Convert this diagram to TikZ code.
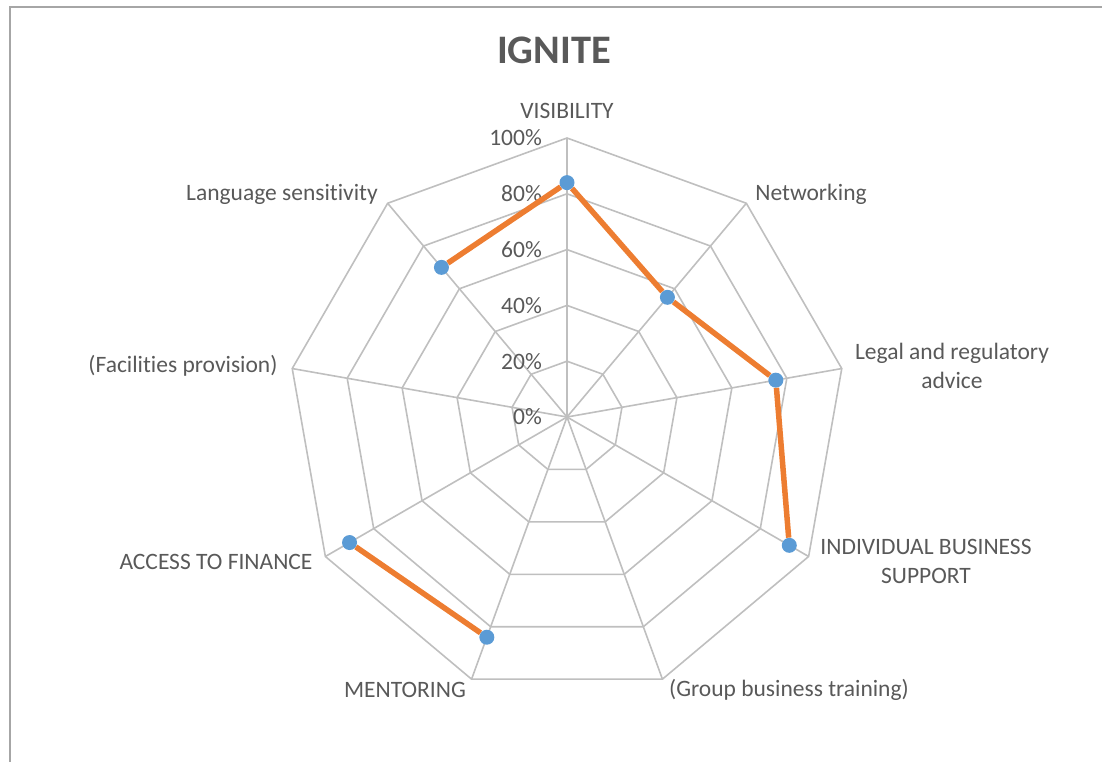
\documentclass[tikz,border=0pt]{standalone}
\usepackage{fontspec}
\setmainfont{Carlito}[Ligatures={NoCommon}]
\usepackage{tikz}
\usetikzlibrary{shapes}

\definecolor{gridgray}{HTML}{BFBFBF}
\definecolor{textgray}{HTML}{595959}
\definecolor{framegray}{HTML}{A6A6A6}
\definecolor{lineorange}{HTML}{ED7D31}
\definecolor{dotblue}{HTML}{5B9BD5}

\tikzset{
  gridline/.style={draw=gridgray,line width=1.6pt},
  axislabel/.style={text=textgray,font=\fontsize{23.5}{29}\selectfont,align=center,inner sep=0pt},
  pctlabel/.style={text=textgray,font=\fontsize{23.5}{29}\selectfont,anchor=east,inner sep=0pt},
  datadot/.style={circle,fill=dotblue,minimum size=15pt,inner sep=0pt},
  dataline/.style={draw=lineorange,line width=5.5pt}
}

\begin{document}
\begin{tikzpicture}[x=1pt,y=1pt]
        \useasboundingbox (-567,-345) rectangle (535,417);
        % chart frame (only left and top edges are in view)
        \draw[framegray,line width=2pt] (-557,-400) -- (-557,410) -- (600,410);
        \node[text=textgray,font=\bfseries\fontsize{40.5}{48}\selectfont] (title) at (-13,367) {IGNITE};
        % web
        \foreach \lev in {1,...,5}
            \draw[gridline] (90:\lev*55.8) \foreach \k in {1,...,8}{ -- (90-40*\k:\lev*55.8)} -- cycle;
        \foreach \k in {0,...,8}
            \draw[gridline] (0,0) -- (90-40*\k:279);
        % percent scale
        \foreach \lev/\pct in {0/0,1/20,2/40,3/60,4/80,5/100}
            \node[pctlabel] (pct\pct) at (-25,\lev*55.8) {\pct\%};
        % axis labels
        \node[axislabel] (visibility) at (0,306) {VISIBILITY};
        \node[axislabel] (networking) at (244,223) {Networking};
        \node[axislabel] (legal) at (385,51) {Legal and regulatory\\advice};
        \node[axislabel] (individual) at (359,-144) {INDIVIDUAL BUSINESS\\SUPPORT};
        \node[axislabel] (group) at (222,-273) {(Group business training)};
        \node[axislabel] (mentoring) at (-162,-273) {MENTORING};
        \node[axislabel] (finance) at (-351,-145) {ACCESS TO FINANCE};
        \node[axislabel] (facilities) at (-384,51) {(Facilities provision)};
        \node[axislabel] (language) at (-285,223) {Language sensitivity};
        % values
        \foreach \name/\ang/\val in {pvis/90/0.84,pnet/50/0.56,plegal/10/0.76,pindiv/-30/0.92,pment/-110/0.84,pfin/-150/0.90,plang/130/0.70}
            \node[datadot] (\name) at (\ang:\val*279) {};
        \draw[dataline] (plang) -- (pvis) -- (pnet) -- (plegal) -- (pindiv);
        \draw[dataline] (pment) -- (pfin);
\end{tikzpicture}
\end{document}
